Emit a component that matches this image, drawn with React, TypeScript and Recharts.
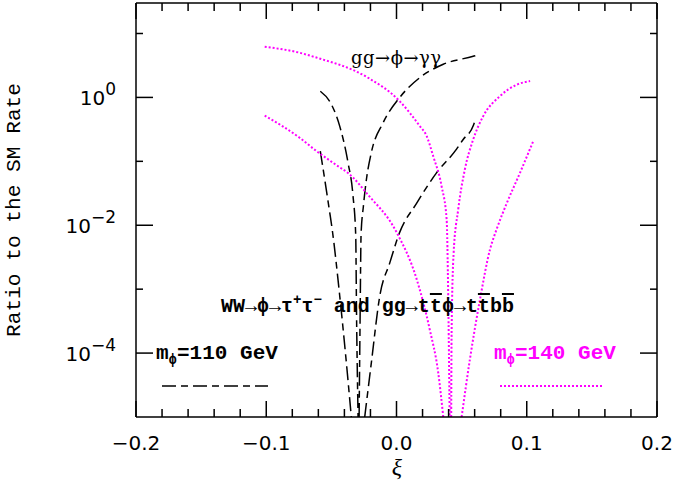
import { LineChart, Line, XAxis, YAxis } from "recharts";

// x ticks every 0.02, labels at every 0.1
const xTicks = [
  -0.2, -0.18, -0.16, -0.14, -0.12, -0.1, -0.08, -0.06, -0.04, -0.02, 0,
  0.02, 0.04, 0.06, 0.08, 0.1, 0.12, 0.14, 0.16, 0.18, 0.2,
];
const yTicks = [1e-4, 1e-3, 1e-2, 1e-1, 1, 10];

// m = 110 GeV, gg -> phi -> gamma gamma
const gg110X = [
  -0.0585, -0.05, -0.0436, -0.0372, -0.0334, -0.0313, -0.0307, -0.0295, -0.0291,
  -0.0287, -0.0279, -0.0272, -0.0254, -0.0231, -0.0193, -0.0103, 0.0025, 0.0179,
  0.0359, 0.0589, 0.0605,
];
const gg110Y = [
  1.25, 0.78, 0.355, 0.095, 0.029, 0.0068, 4.4e-4, 1e-5, null,
  1e-5, 4.4e-4, 0.0072, 0.02, 0.052, 0.138, 0.4, 1.0, 2.04,
  3.3, 4.4, 4.5,
];

// m = 110 GeV, WW -> phi -> tau tau and gg -> tt phi -> tt bb
const ww110X = [
  -0.0585, -0.0551, -0.0513, -0.0494, -0.0436, -0.0385, -0.0347, -0.03,
  -0.0244, -0.0193, -0.0128, -0.0051, 0.0025, 0.0154, 0.0307, 0.0461, 0.0512,
  0.0589, 0.0597,
];
const ww110Y = [
  0.145, 0.052, 0.016, 0.0087, 7.9e-4, 7.1e-5, 1e-5, null,
  1e-5, 7.1e-5, 7.9e-4, 0.0026, 0.0078, 0.022, 0.066, 0.155, 0.22,
  0.36, 0.4,
];

// m = 140 GeV, gg -> phi -> gamma gamma
const gg140X = [
  -0.1012, -0.0744, -0.0615, -0.0231, 0.0025, 0.0179, 0.0231, 0.0282, 0.0346,
  0.0385, 0.0397, 0.0408, 0.0414, 0.042, 0.0423, 0.0438, 0.0474, 0.0525, 0.0589,
  0.0666, 0.0795, 0.0923, 0.1026,
];
const gg140Y = [
  6.2, 5.0, 4.2, 2.1, 0.87, 0.355, 0.25, 0.12, 0.041,
  0.0123, 7.9e-4, 1e-5, null, 1e-5, 2.1e-4, 0.0035, 0.0178, 0.075, 0.22,
  0.51, 1.05, 1.58, 1.8,
];

// m = 140 GeV, WW -> phi -> tau tau and gg -> tt phi -> tt bb
const ww140X = [
  -0.1012, -0.0744, -0.0615, -0.0488, -0.0334, -0.0231, 0.0, 0.0154, 0.0256,
  0.032, 0.0359, 0.042, 0.05, 0.0564, 0.0641, 0.0718, 0.0769, 0.0846, 0.0948,
  0.1051,
];
const ww140Y = [
  0.52, 0.234, 0.145, 0.095, 0.056, 0.032, 0.0078, 0.00145, 2.3e-4,
  5e-5, 1e-5, null, 1e-5, 8.1e-5, 6.9e-4, 0.0042, 0.0087, 0.022, 0.066,
  0.21,
];

const rows = (xs: number[], ys: (number | null)[]) =>
  xs.map((x, i) => ({ x, y: ys[i] }));

const BLACK_DASH = "14 5 7 5";
const MAGENTA = "#ff00ff";
const tickFont = "'DejaVu Sans', sans-serif";

const XTick = (props: any) => {
  const { x, y, payload, top } = props;
  const v = payload.value as number;
  const major = Math.abs(v * 10 - Math.round(v * 10)) < 1e-6;
  const len = major ? 16 : 8;
  const dir = top ? 1 : -1;
  const label = (v < 0 ? "\u2212" : "") + Math.abs(v).toFixed(1);
  return (
    <g>
      <line x1={x} y1={y} x2={x} y2={y + dir * len} stroke="#000" strokeWidth={1.5} />
      {!top && major && (
        <text x={x} y={y + 33} textAnchor="middle" fontFamily={tickFont} fontSize={20} fill="#000">
          {label}
        </text>
      )}
    </g>
  );
};

const YTick = (props: any) => {
  const { x, y, payload, right } = props;
  const e = Math.round(Math.log10(payload.value));
  const major = e % 2 === 0;
  const len = major ? 17 : 7;
  const dir = right ? -1 : 1;
  const exp = (e < 0 ? "\u2212" : "") + Math.abs(e);
  return (
    <g>
      <line x1={x} y1={y} x2={x + dir * len} y2={y} stroke="#000" strokeWidth={1.5} />
      {!right && major && (
        <text x={x - 20} y={y + 8} textAnchor="end" fontFamily={tickFont} fontSize={20} fill="#000">
          <tspan>10</tspan>
          <tspan dy={-10} fontSize={17}>{exp}</tspan>
        </text>
      )}
    </g>
  );
};

export default function App() {
  const axisLine = { stroke: "#000", strokeWidth: 1.5 };
  const mono = "'Liberation Mono', monospace";
  return (
    <div style={{ position: "absolute", left: 0, top: 0, width: 676, height: 485 }}>
      <LineChart
        width={676}
        height={485}
        margin={{ top: 2, right: 18, bottom: 67, left: 135 }}
      >
        <XAxis
          xAxisId="b"
          dataKey="x"
          type="number"
          domain={[-0.2, 0.2]}
          ticks={xTicks}
          interval={0}
          allowDataOverflow
          height={1}
          tickSize={0}
          tickMargin={0}
          axisLine={axisLine}
          tickLine={false}
          tick={(p: any) => <XTick {...p} />}
        />
        <XAxis
          xAxisId="t"
          orientation="top"
          dataKey="x"
          type="number"
          domain={[-0.2, 0.2]}
          ticks={xTicks}
          interval={0}
          allowDataOverflow
          height={1}
          tickSize={0}
          tickMargin={0}
          axisLine={axisLine}
          tickLine={false}
          tick={(p: any) => <XTick {...p} top />}
        />
        <YAxis
          yAxisId="l"
          type="number"
          scale="log"
          domain={[1e-5, 30]}
          ticks={yTicks}
          interval={0}
          allowDataOverflow
          width={1}
          tickSize={0}
          tickMargin={0}
          axisLine={axisLine}
          tickLine={false}
          tick={(p: any) => <YTick {...p} />}
        />
        <YAxis
          yAxisId="r"
          orientation="right"
          type="number"
          scale="log"
          domain={[1e-5, 30]}
          ticks={yTicks}
          interval={0}
          allowDataOverflow
          width={1}
          tickSize={0}
          tickMargin={0}
          axisLine={axisLine}
          tickLine={false}
          tick={(p: any) => <YTick {...p} right />}
        />
        <Line xAxisId="b" yAxisId="l" data={rows(gg110X, gg110Y)} dataKey="y" type="monotone"
          stroke="#000" strokeWidth={1.5} strokeDasharray={BLACK_DASH} dot={false} isAnimationActive={false} />
        <Line xAxisId="b" yAxisId="l" data={rows(ww110X, ww110Y)} dataKey="y" type="monotone"
          stroke="#000" strokeWidth={1.5} strokeDasharray={BLACK_DASH} dot={false} isAnimationActive={false} />
        <Line xAxisId="b" yAxisId="l" data={rows(gg140X, gg140Y)} dataKey="y" type="monotone"
          stroke={MAGENTA} strokeWidth={2} strokeDasharray="2 2" dot={false} isAnimationActive={false} />
        <Line xAxisId="b" yAxisId="l" data={rows(ww140X, ww140Y)} dataKey="y" type="monotone"
          stroke={MAGENTA} strokeWidth={2} strokeDasharray="2 2" dot={false} isAnimationActive={false} />
      </LineChart>
      <svg width={676} height={485} style={{ position: "absolute", left: 0, top: 0, pointerEvents: "none" }}>
        <text transform="translate(20,210) rotate(-90)" textAnchor="middle" fontFamily={mono} fontSize={20}
          textLength={254} lengthAdjust="spacingAndGlyphs">
          Ratio to the SM Rate
        </text>
        <text x={397} y={475} textAnchor="middle" fontFamily="'Liberation Serif', serif" fontStyle="italic" fontSize={24}>
          ξ
        </text>
        <text x={351} y={64} fontFamily="'DejaVu Serif', serif" fontSize={18} textLength={90}>
          gg→ϕ→γγ
        </text>
        <text x={221} y={312} fontFamily={mono} fontSize={20} fontWeight="bold">
          <tspan>WW→ϕ→τ</tspan>
          <tspan dy={-8} fontSize={14}>+</tspan>
          <tspan dy={8}>τ</tspan>
          <tspan dy={-8} fontSize={14}>−</tspan>
          <tspan dy={8}> and gg→t</tspan>
          <tspan style={{ textDecoration: "overline" }}>t</tspan>
          <tspan>ϕ→t</tspan>
          <tspan style={{ textDecoration: "overline" }}>t</tspan>
          <tspan>b</tspan>
          <tspan style={{ textDecoration: "overline" }}>b</tspan>
        </text>
        <text x={156} y={359} fontFamily={mono} fontSize={21} fontWeight="bold">
          <tspan>m</tspan>
          <tspan dy={5} fontSize={14}>ϕ</tspan>
          <tspan dy={-5}>=110 GeV</tspan>
        </text>
        <line x1={162} y1={386} x2={268} y2={386} stroke="#000" strokeWidth={1.5} strokeDasharray={BLACK_DASH} />
        <text x={494} y={359} fontFamily={mono} fontSize={21} fontWeight="bold" fill={MAGENTA}>
          <tspan>m</tspan>
          <tspan dy={5} fontSize={14}>ϕ</tspan>
          <tspan dy={-5}>=140 GeV</tspan>
        </text>
        <line x1={500} y1={386} x2={603} y2={386} stroke={MAGENTA} strokeWidth={2} strokeDasharray="2 2" />
      </svg>
    </div>
  );
}
